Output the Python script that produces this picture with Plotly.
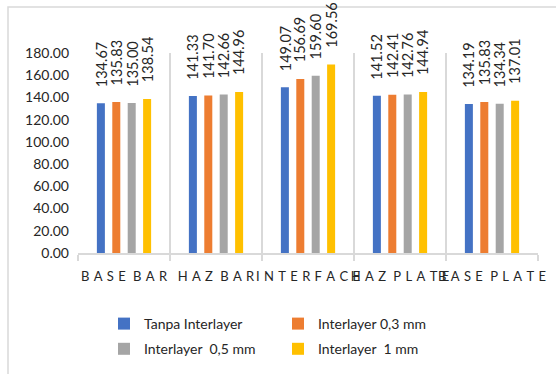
import plotly.graph_objects as go

# Categories along the weld joint
categories = ["BASE BAR", "HAZ BAR", "INTERFACE", "HAZ PLATE", "BASE PLATE"]

# Hardness values per interlayer condition
tanpa_interlayer = [134.67, 141.33, 149.07, 141.52, 134.19]
interlayer_03 = [135.83, 141.70, 156.69, 142.41, 135.83]
interlayer_05 = [135.00, 142.66, 159.60, 142.76, 134.34]
interlayer_1 = [138.54, 144.96, 169.56, 144.94, 137.01]

series_names = ["Tanpa Interlayer", "Interlayer 0,3 mm", "Interlayer  0,5 mm", "Interlayer  1 mm"]
series_values = [tanpa_interlayer, interlayer_03, interlayer_05, interlayer_1]
series_colors = ["#4472C4", "#ED7D31", "#A5A5A5", "#FFC000"]
series_legend = ["legend", "legend2", "legend", "legend2"]

W, H = 556, 374
L, R, T, B = 78, 18, 53, 121
FONT = "Lato, 'Open Sans', sans-serif"
BARGAP = 0.33
BARGROUPGAP = 0.48


def spaced(label):
    # letter-spaced category labels
    words = label.split(" ")
    return "\u2002\u200a".join("\u2004".join(w) for w in words)


tick_text = [spaced(c) for c in categories]

fig = go.Figure()
n_series = len(series_values)
slot = (1 - BARGAP) / n_series  # width of one bar slot, in category units
annotations = []
for j, (name, vals, color, lg) in enumerate(zip(series_names, series_values, series_colors, series_legend)):
    fig.add_trace(go.Bar(
        x=categories,
        y=vals,
        name=name,
        marker=dict(color=color, line=dict(width=0)),
        legend=lg,
        legendgroup=name,
    ))
    # value labels, rotated above each bar
    for i, v in enumerate(vals):
        annotations.append(dict(
            x=i + (j - (n_series - 1) / 2) * slot,
            y=v,
            xref="x",
            yref="y",
            text=f"{v:.2f}",
            textangle=-90,
            showarrow=False,
            xanchor="center",
            yanchor="middle",
            yshift=39,
            font=dict(family=FONT, size=14.5, color="#262626"),
        ))

# outer chart frame
px2x = lambda p: (p - L) / (W - L - R)
py2y = lambda p: (H - B - p) / (H - T - B)
fig.add_shape(type="rect", xref="paper", yref="paper",
              x0=px2x(8), x1=px2x(W + 10), y0=py2y(H + 10), y1=py2y(7),
              line=dict(color="#D9D9D9", width=1.5), fillcolor="rgba(0,0,0,0)",
              layer="below")

legend_style = dict(
    orientation="v",
    font=dict(family=FONT, size=14, color="#262626"),
    bgcolor="rgba(0,0,0,0)",
    tracegroupgap=4,
    itemwidth=30,
    xanchor="left",
    yanchor="top",
)

fig.update_layout(
    width=W,
    height=H,
    margin=dict(l=L, r=R, t=T, b=B, autoexpand=False),
    paper_bgcolor="white",
    plot_bgcolor="white",
    barmode="group",
    bargap=BARGAP,
    bargroupgap=BARGROUPGAP,
    font=dict(family=FONT, color="#262626"),
    annotations=annotations,
    xaxis=dict(
        type="category",
        tickvals=categories,
        ticktext=tick_text,
        tickangle=0,
        automargin=False,
        tickson="boundaries",
        showgrid=True,
        gridcolor="#D9D9D9",
        gridwidth=1.5,
        ticks="outside",
        ticklen=6,
        tickcolor="#D9D9D9",
        tickwidth=1.5,
        showline=True,
        linecolor="#D9D9D9",
        linewidth=1.5,
        tickfont=dict(family=FONT, size=13, color="#262626"),
        ticklabelstandoff=11,
        zeroline=False,
    ),
    yaxis=dict(
        range=[0, 180],
        dtick=20,
        tickformat=".2f",
        showgrid=False,
        zeroline=False,
        showline=False,
        ticks="",
        automargin=False,
        tickfont=dict(family=FONT, size=14, color="#262626"),
        ticklabelstandoff=8,
    ),
    legend=dict(x=px2x(104), y=py2y(308), **legend_style),
    legend2=dict(x=px2x(278), y=py2y(308), **legend_style),
    showlegend=True,
)

fig.write_html("out.html")
